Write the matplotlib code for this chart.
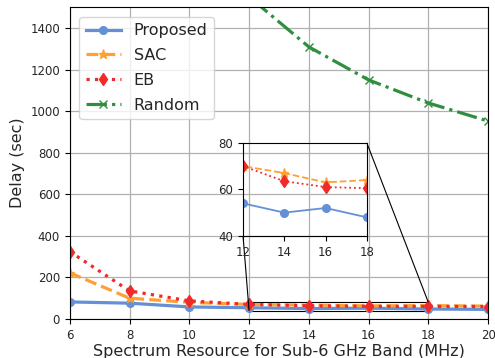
import matplotlib
matplotlib.use("Agg")
import matplotlib.pyplot as plt
from mpl_toolkits.axes_grid1.inset_locator import mark_inset

x = [6, 8, 10, 12, 14, 16, 18, 20]
proposed = [82, 76, 58, 54, 50, 52, 48, 46]
sac = [222, 100, 80, 70, 67, 63, 64, 62]
eb = [324, 135, 87, 70, 63.5, 61, 60.5, 60]
random_ = [3200, 2400, 1900, 1550, 1309, 1150, 1039, 952]

labels = ["Proposed", "SAC", "EB", "Random"]
xticks = [6, 8, 10, 12, 14, 16, 18, 20]
yticks = [0, 200, 400, 600, 800, 1000, 1200, 1400]

c_p, c_s, c_e, c_r = "#6490d6", "#ffa035", "#f02a2a", "#2f8f3f"
txt = "#262626"

fig = plt.figure(figsize=(4.95, 3.58), dpi=100)
ax = fig.add_axes([0.141, 0.109, 0.845, 0.871])

series = [
    (proposed, c_p, "-", "o", 5.5),
    (sac, c_s, "--", "*", 6.5),
    (eb, c_e, ":", "d", 6.5),
    (random_, c_r, "-.", "x", 5.5),
]
for (ys, c, ls, mk, ms), lab in zip(series, labels):
    ax.plot(x, ys, color=c, linestyle=ls, marker=mk, markersize=ms,
            linewidth=2.3, label=lab)

ax.set_xlim(6, 20)
ax.set_ylim(0, 1500)
ax.set_xticks(xticks)
ax.set_yticks(yticks)
ax.tick_params(labelsize=8.5, labelcolor=txt)
ax.grid(True, color="#b0b0b0", linewidth=0.9)
ax.set_axisbelow(True)
ax.set_xlabel("Spectrum Resource for Sub-6 GHz Band (MHz)", fontsize=11.5,
              labelpad=2, color=txt)
ax.set_ylabel("Delay (sec)", fontsize=11.5, color=txt)
leg = ax.legend(loc="upper left", fontsize=11.5, handlelength=2.2,
                borderaxespad=0.6, labelspacing=0.62)
for t in leg.get_texts():
    t.set_color(txt)

axins = fig.add_axes([0.491, 0.341, 0.250, 0.260])
axins.patch.set_alpha(0)
for (ys, c, ls, mk, ms) in series:
    axins.plot(x, ys, color=c, linestyle=ls, marker=mk, markersize=ms,
               linewidth=1.3)
axins.set_xlim(12, 18)
axins.set_ylim(40, 80)
axins.set_xticks([12, 14, 16, 18])
axins.set_yticks([40, 60, 80])
axins.tick_params(labelsize=8.5, labelcolor=txt)
mark_inset(ax, axins, loc1=1, loc2=3, fc="none", ec="black", lw=0.8)

fig.savefig("out.png", dpi=100)
